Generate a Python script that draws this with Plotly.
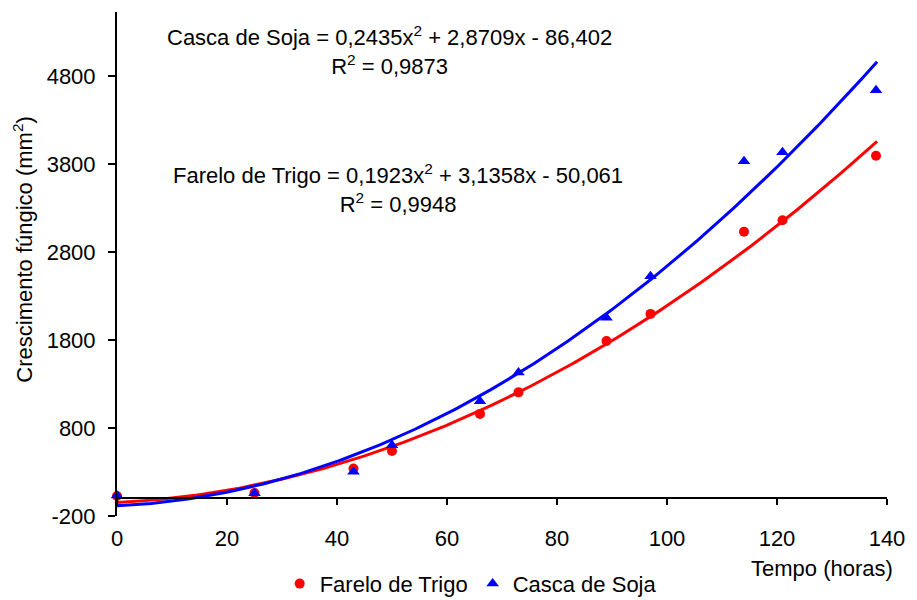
import numpy as np
import plotly.graph_objects as go

# ---- data ----
tempo = [0, 25, 43, 50, 66, 73, 89, 97, 114, 121, 138]
farelo_trigo = [26, 60, 337, 537, 958, 1203, 1787, 2095, 3028, 3159, 3893]
casca_soja = [30, 55, 300, 601, 1101, 1429, 2050, 2522, 3830, 3931, 4638]

# trendline coefficients printed on the chart (a, b, c for a*x^2 + b*x + c)
coef_trigo = [0.1923, 3.1358, -50.061]
coef_soja = [0.2435, 2.8709, -86.402]
trend_x_end = 138.2

x_ticks = [0, 20, 40, 60, 80, 100, 120, 140]
y_ticks = [-200, 800, 1800, 2800, 3800, 4800]
y_tick_labels = ["-200", "800", "1800", "2800", "3800", "4800"]

eq_soja = "Casca de Soja = 0,2435x<sup>2</sup> + 2,8709x - 86,402<br>R<sup>2</sup> = 0,9873"
eq_trigo = "Farelo de Trigo = 0,1923x<sup>2</sup> + 3,1358x - 50,061<br>R<sup>2</sup> = 0,9948"

RED = "#FF0000"
BLUE = "#0000FF"
FONT = "Arial, 'Liberation Sans', sans-serif"
FS = 22

xt = np.linspace(0, trend_x_end, 200)
yt_trigo = np.polyval(coef_trigo, xt)
yt_soja = np.polyval(coef_soja, xt)

fig = go.Figure()

fig.add_trace(go.Scatter(x=tempo, y=farelo_trigo, mode="markers", name="Farelo de Trigo",
                         marker=dict(symbol="circle", size=10, color=RED), cliponaxis=False))
fig.add_trace(go.Scatter(x=xt, y=yt_trigo, mode="lines", showlegend=False,
                         line=dict(color=RED, width=3), hoverinfo="skip"))
fig.add_trace(go.Scatter(x=tempo, y=casca_soja, mode="markers", name="Casca de Soja",
                         marker=dict(symbol="triangle-up", size=11, color=BLUE), cliponaxis=False))
fig.add_trace(go.Scatter(x=xt, y=yt_soja, mode="lines", showlegend=False,
                         line=dict(color=BLUE, width=3), hoverinfo="skip"))
# helper trace so the axis drawn at y = 0 is rendered
fig.add_trace(go.Scatter(x=[None], y=[None], xaxis="x2", yaxis="y", showlegend=False, hoverinfo="skip"))

y_min, y_max = -200, 5526
zero_pos = (0 - y_min) / (y_max - y_min)

fig.update_layout(
    width=917, height=600,
    margin=dict(l=117, r=28, t=12, b=81),
    paper_bgcolor="white", plot_bgcolor="white",
    font=dict(family=FONT, size=FS, color="black"),
    showlegend=True,
    legend=dict(orientation="h", xref="container", yref="container",
                x=0.305, y=0.062, xanchor="left", yanchor="top",
                font=dict(family=FONT, size=FS, color="black"),
                itemwidth=30, tracegroupgap=0, bgcolor="rgba(0,0,0,0)"),
    xaxis=dict(range=[0, 140], tickvals=x_ticks, showline=False, ticks="", showgrid=False,
               zeroline=False, tickfont=dict(size=FS), ticklabelstandoff=7),
    xaxis2=dict(range=[0, 140], overlaying="x", anchor="free", position=zero_pos,
                tickvals=x_ticks, showticklabels=False, ticks="outside", ticklen=6, tickwidth=2,
                tickcolor="black", showline=True, linewidth=2, linecolor="black",
                showgrid=False, zeroline=False),
    yaxis=dict(range=[y_min, y_max], tickvals=y_ticks, ticktext=y_tick_labels,
               ticks="outside", ticklen=7, tickwidth=2,
               tickcolor="black", showline=True, linewidth=2, linecolor="black",
               showgrid=False, zeroline=False, tickfont=dict(size=FS), ticklabelstandoff=8),
    annotations=[
        dict(text=eq_soja, xref="paper", yref="paper", x=0.3536, y=0.924,
             xanchor="center", yanchor="middle", align="center", showarrow=False,
             font=dict(size=FS)),
        dict(text=eq_trigo, xref="paper", yref="paper", x=0.365, y=0.65,
             xanchor="center", yanchor="middle", align="center", showarrow=False,
             font=dict(size=FS)),
        dict(text="Crescimento fúngico (mm<sup>2</sup>)", xref="paper", yref="paper",
             x=-0.1218, y=0.5286, xanchor="center", yanchor="middle", textangle=-90,
             showarrow=False, font=dict(size=FS)),
        dict(text="Tempo (horas)", xref="paper", yref="paper", x=1.0104, y=-0.1045,
             xanchor="right", yanchor="middle", showarrow=False, font=dict(size=FS)),
    ],
)

fig.write_html("out.html")
